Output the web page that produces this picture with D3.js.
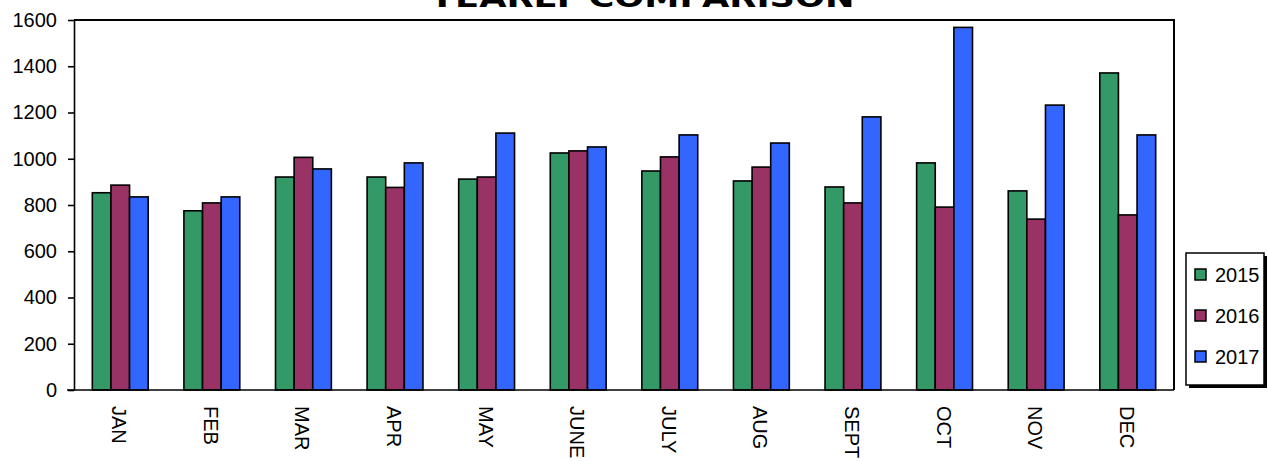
<!DOCTYPE html>
<html>
<head>
<meta charset="utf-8">
<script src="https://cdn.jsdelivr.net/npm/d3@7"></script>
<style>
  body { margin: 0; background: #fff; }
  text { font-family: "Liberation Sans", Arial, sans-serif; }
</style>
</head>
<body>
<svg id="chart" width="1268" height="461"></svg>
<script>
var months = ['JAN','FEB','MAR','APR','MAY','JUNE','JULY','AUG','SEPT','OCT','NOV','DEC'];
var years = ['2015','2016','2017'];
var values2015 = [853, 775, 921, 921, 912, 1025, 947, 904, 878, 982, 861, 1371];
var values2016 = [886, 809, 1006, 876, 921, 1034, 1008, 964, 809, 791, 739, 757];
var values2017 = [835, 835, 956, 982, 1111, 1051, 1103, 1068, 1181, 1568, 1232, 1103];
var yTicks = [0, 200, 400, 600, 800, 1000, 1200, 1400, 1600];
var colors = ['#339966', '#993366', '#3366FF'];

var series = [values2015, values2016, values2017];
var svg = d3.select('#chart');

// plot area edges (note: "top" is reserved on window)
var plotLeft = 74, plotRight = 1174, plotTop = 20, plotBottom = 390;

var x = d3.scaleBand().domain(months).range([plotLeft, plotRight]).paddingInner(0.39).paddingOuter(0.2);
var xInner = d3.scaleBand().domain(years).range([0, x.bandwidth()]);
var y = d3.scaleLinear().domain([0, 1600]).range([plotBottom, plotTop]);

// title, clipped at the top edge like the original
svg.append('text')
  .attr('x', 642).attr('y', 7)
  .attr('text-anchor', 'middle')
  .attr('textLength', 425)
  .attr('lengthAdjust', 'spacingAndGlyphs')
  .style('font-family', '"DejaVu Sans", Verdana, sans-serif')
  .style('font-weight', 'bold')
  .style('font-size', '27px')
  .text('YEARLY COMPARISON');

// plot frame (top and right)
svg.append('path')
  .attr('d', 'M' + plotLeft + ',' + plotTop + 'H' + plotRight + 'V' + plotBottom)
  .attr('fill', 'none').attr('stroke', '#000').attr('stroke-width', 2);

// bars
months.forEach(function(m, i) {
  series.forEach(function(s, j) {
    svg.append('rect')
      .attr('x', x(m) + xInner(years[j]))
      .attr('y', y(s[i]))
      .attr('width', xInner.bandwidth())
      .attr('height', y(0) - y(s[i]))
      .attr('fill', colors[j])
      .attr('stroke', '#000')
      .attr('stroke-width', 1.6);
  });
});

// y axis
var yAxis = svg.append('g')
  .attr('transform', 'translate(' + plotLeft + ',0)')
  .call(d3.axisLeft(y).tickValues(yTicks).tickFormat(d3.format('d'))
    .tickSize(6).tickPadding(11).tickSizeOuter(0));
yAxis.selectAll('text').style('font-size', '20px').attr('fill', '#000');
yAxis.selectAll('line, path').attr('stroke', '#000').attr('stroke-width', 1.6);

// x axis
var xAxis = svg.append('g')
  .attr('transform', 'translate(0,' + plotBottom + ')')
  .call(d3.axisBottom(x).tickSize(0).tickSizeOuter(0));
xAxis.select('path').attr('d', 'M' + (plotLeft - 7) + ',0H' + plotRight).attr('stroke', '#000').attr('stroke-width', 1.6);
xAxis.selectAll('text')
  .style('font-size', '20px')
  .attr('fill', '#000')
  .attr('text-anchor', 'start')
  .attr('dy', null)
  .attr('y', null)
  .attr('transform', 'translate(-8,16) rotate(90)');

// legend
var lg = svg.append('g').attr('transform', 'translate(1186,253)');
lg.append('rect').attr('x', 3).attr('y', 3).attr('width', 78).attr('height', 132).attr('fill', '#000');
lg.append('rect').attr('x', 0).attr('y', 0).attr('width', 78).attr('height', 132)
  .attr('fill', '#fff').attr('stroke', '#000').attr('stroke-width', 1.5);
years.forEach(function(yr, j) {
  var cy = 22 + j * 41;
  lg.append('rect').attr('x', 9).attr('y', cy - 6).attr('width', 11).attr('height', 11)
    .attr('fill', colors[j]).attr('stroke', '#000').attr('stroke-width', 1.5);
  lg.append('text').attr('x', 29).attr('y', cy + 7).style('font-size', '20px').text(yr);
});
</script>
</body>
</html>
